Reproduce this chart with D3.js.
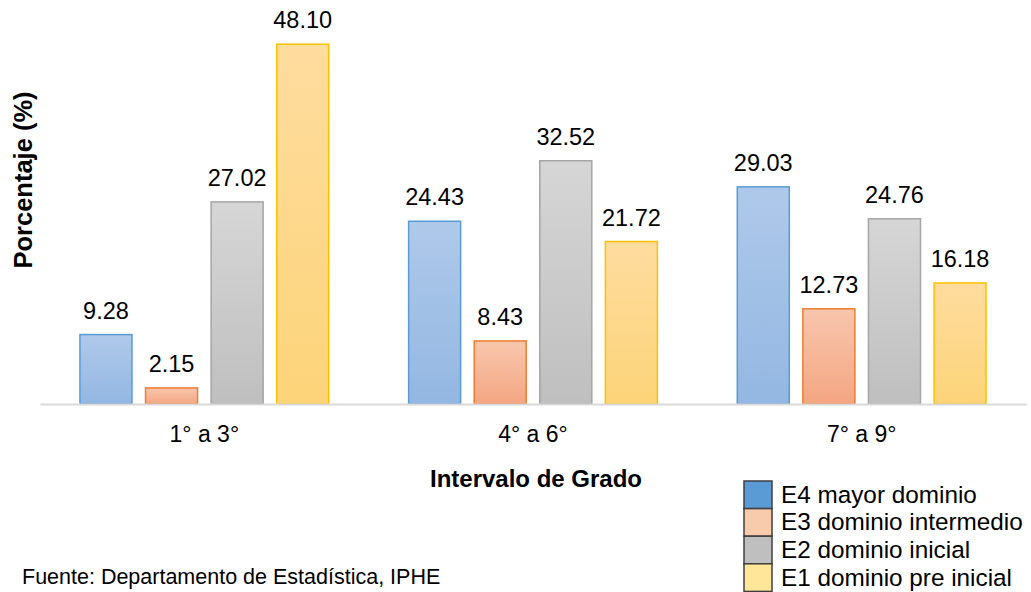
<!DOCTYPE html>
<html>
<head>
<meta charset="utf-8">
<style>
  body { margin: 0; background: #fff; }
  svg { display: block; font-family: "Liberation Sans", Arial, sans-serif; }
</style>
</head>
<body>
<script src="https://cdn.jsdelivr.net/npm/d3@7"></script>
<script>
  const categories = ['1° a 3°', '4° a 6°', '7° a 9°'];
  const series = ['E4 mayor dominio', 'E3 dominio intermedio', 'E2 dominio inicial', 'E1 dominio pre inicial'];
  const values = [
    [9.28, 2.15, 27.02, 48.10],
    [24.43, 8.43, 32.52, 21.72],
    [29.03, 12.73, 24.76, 16.18],
  ];

  const w = 1031, h = 592;
  const fills = [
    ['#afc9ea', '#93b7e2'],
    ['#f8c6ad', '#f4a682'],
    ['#d6d6d6', '#bfbfbf'],
    ['#fedc9e', '#fdd479'],
  ];
  const strokes = ['#5b9bd5', '#ed7d31', '#a5a5a5', '#ffc000'];
  const swatch = ['#5b9bd5', '#f8cbad', '#bfbfbf', '#ffe699'];

  const svg = d3.select('body').append('svg')
    .attr('width', w)
    .attr('height', h);

  const defs = svg.append('defs');
  fills.forEach((f, i) => {
    const lg = defs.append('linearGradient')
      .attr('id', `grad${i}`)
      .attr('x1', 0).attr('y1', 0).attr('x2', 0).attr('y2', 1);
    lg.append('stop').attr('offset', '0%').attr('stop-color', f[0]);
    lg.append('stop').attr('offset', '100%').attr('stop-color', f[1]);
  });

  const x0 = d3.scaleBand().domain(categories).range([40, 1026]);
  const x1 = d3.scaleBand().domain(series).range([0, x0.bandwidth()])
    .paddingInner(0.207).paddingOuter(0.609);
  const y = d3.scaleLinear().domain([0, 50]).range([404, 30]);

  // bars
  const groups = svg.append('g').selectAll('g')
    .data(categories)
    .join('g')
    .attr('transform', d => `translate(${x0(d)},0)`);

  groups.selectAll('rect')
    .data((d, ci) => values[ci].map((v, si) => ({s: series[si], si, v})))
    .join('rect')
    .attr('x', d => x1(d.s))
    .attr('y', d => y(d.v))
    .attr('width', x1.bandwidth())
    .attr('height', d => y(0) - y(d.v))
    .attr('fill', d => `url(#grad${d.si})`)
    .attr('stroke', d => strokes[d.si])
    .attr('stroke-width', 1.5);

  groups.selectAll('text')
    .data((d, ci) => values[ci].map((v, si) => ({s: series[si], si, v})))
    .join('text')
    .attr('x', d => x1(d.s) + x1.bandwidth() / 2)
    .attr('y', d => y(d.v) - 16)
    .attr('text-anchor', 'middle')
    .attr('font-size', 23.5)
    .attr('fill', '#000')
    .text(d => d.v.toFixed(2));

  // x axis
  const xAxis = svg.append('g')
    .attr('transform', `translate(0,${y(0)})`)
    .call(d3.axisBottom(x0).tickSize(0).tickPadding(22).tickSizeOuter(0));
  xAxis.select('.domain').attr('stroke', '#d9d9d9').attr('stroke-width', 2);
  xAxis.selectAll('text')
    .attr('font-size', 23)
    .attr('font-family', '"Liberation Sans", Arial, sans-serif')
    .attr('fill', '#000');

  // axis titles
  svg.append('text')
    .attr('x', 536).attr('y', 487)
    .attr('text-anchor', 'middle')
    .attr('font-size', 24)
    .attr('font-weight', 'bold')
    .attr('fill', '#000')
    .text('Intervalo de Grado');

  svg.append('text')
    .attr('transform', 'translate(32,180) rotate(-90)')
    .attr('text-anchor', 'middle')
    .attr('font-size', 25.5)
    .attr('font-weight', 'bold')
    .attr('fill', '#000')
    .text('Porcentaje (%)');

  // source
  svg.append('text')
    .attr('x', 22).attr('y', 584)
    .attr('font-size', 21.5)
    .attr('fill', '#000')
    .text('Fuente: Departamento de Estadística, IPHE');

  // legend
  const legend = svg.append('g').attr('transform', 'translate(744,481)');
  const rowH = 27.6;
  const items = legend.selectAll('g')
    .data(series)
    .join('g')
    .attr('transform', (d, i) => `translate(0,${i * rowH})`);
  items.append('rect')
    .attr('width', 28).attr('height', rowH)
    .attr('fill', (d, i) => swatch[i])
    .attr('stroke', '#3f3f3f')
    .attr('stroke-width', 1.5);
  items.append('text')
    .attr('x', 37).attr('y', rowH / 2 + 8)
    .attr('font-size', 24.3)
    .attr('fill', '#000')
    .text(d => d);
</script>
</body>
</html>
